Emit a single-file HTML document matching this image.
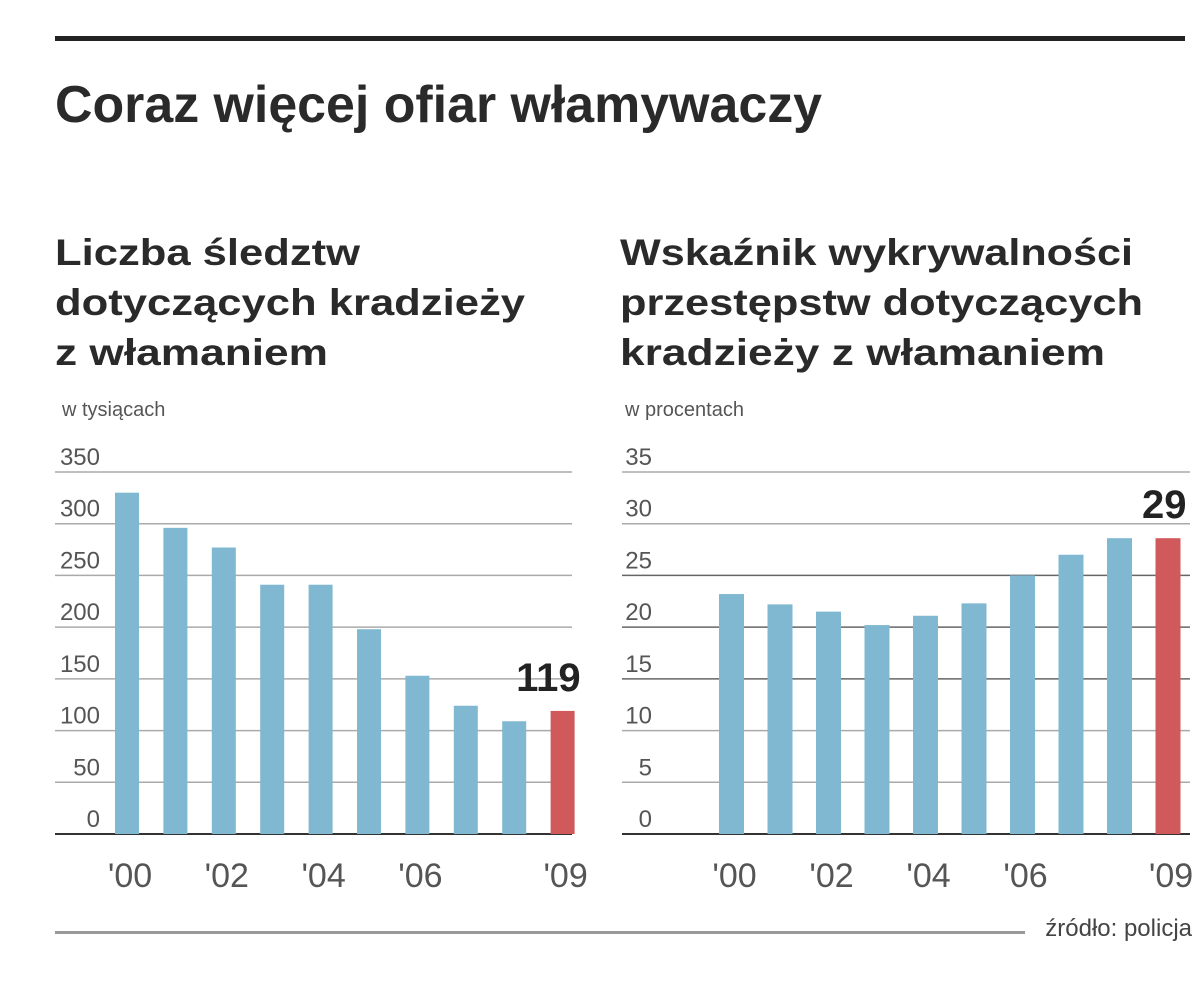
<!DOCTYPE html>
<html><head><meta charset="utf-8"><style>
html,body{margin:0;padding:0;background:#fff;}
svg{display:block;font-family:"Liberation Sans",sans-serif;}
</style></head><body>
<svg id="s" width="1200" height="982" viewBox="0 0 1200 982">
<rect x="55" y="36" width="1130" height="5" fill="#222"/>
<text x="55" y="122" font-size="52" font-weight="bold" fill="#2a2a2a" textLength="767" lengthAdjust="spacingAndGlyphs">Coraz więcej ofiar włamywaczy</text>
<g font-size="37" font-weight="bold" fill="#2a2a2a">
<text x="55" y="265" textLength="305" lengthAdjust="spacingAndGlyphs">Liczba śledztw</text>
<text x="55" y="315" textLength="470" lengthAdjust="spacingAndGlyphs">dotyczących kradzieży</text>
<text x="55" y="365" textLength="273" lengthAdjust="spacingAndGlyphs">z włamaniem</text>
</g>
<g font-size="37" font-weight="bold" fill="#2a2a2a">
<text x="620" y="265" textLength="513" lengthAdjust="spacingAndGlyphs">Wskaźnik wykrywalności</text>
<text x="620" y="315" textLength="523" lengthAdjust="spacingAndGlyphs">przestępstw dotyczących</text>
<text x="620" y="365" textLength="485" lengthAdjust="spacingAndGlyphs">kradzieży z włamaniem</text>
</g>
<text x="62" y="416" font-size="20" fill="#555">w tysiącach</text>
<text x="625" y="416" font-size="20" fill="#555">w procentach</text>
<g id="left"></g>
<g id="right"></g>
<rect x="55" y="931" width="970" height="3" fill="#999"/>
<text x="1192" y="936" font-size="24" fill="#444" text-anchor="end">źródło: policja</text>
</svg>
<script>
const years = ["'00","'01","'02","'03","'04","'05","'06","'07","'08","'09"];
const xLabelShown = [true,false,true,false,true,false,true,false,false,true];
const leftValues = [330,296,277,241,241,198,153,124,109,119];
const leftTicks = [0,50,100,150,200,250,300,350];
const leftHighlight = "119";
const rightValues = [23.2,22.2,21.5,20.2,21.1,22.3,25,27,28.6,28.6];
const rightTicks = [0,5,10,15,20,25,30,35];
const rightHighlight = "29";
const NS="http://www.w3.org/2000/svg";
function mk(tag,attrs,parent){const e=document.createElementNS(NS,tag);for(const k in attrs)e.setAttribute(k,attrs[k]);parent.appendChild(e);return e;}
function draw(gid,vals,ticks,hl,cfg){
  const g=document.getElementById(gid);
  const max=ticks[ticks.length-1];
  const y=v=>cfg.y0-(v/max)*(cfg.y0-cfg.yTop);
  const x=i=>cfg.x0+i*cfg.pitch;
  ticks.forEach((t,i)=>{
    const dark = cfg.darkTicks && cfg.darkTicks.includes(t);
    const ln=mk('line',{x1:cfg.gx1,x2:cfg.gx2,y1:y(t),y2:y(t),stroke:t===0?'#333':(dark?'#666':'#aaa'),'stroke-width':t===0?2:1.5},g);
    
    
    const tx=mk('text',{x:cfg.tickX,y:y(t)-7,'font-size':24,fill:'#555','text-anchor':'end'},g);
    tx.textContent=t;
    
    
  });
  vals.forEach((v,i)=>{
    const last=i===vals.length-1;
    const r=mk('rect',{x:x(i),y:y(v),width:cfg.bw,height:cfg.y0-y(v),fill:last?'#d0595c':'#7fb8d0'},g);
    
    
    if(xLabelShown[i]){
      const t=mk('text',{x:x(i)+cfg.bw/2+3,y:cfg.y0+53,'font-size':34,fill:'#555','text-anchor':'middle'},g);
      t.textContent=years[i];
      
      
    }
    if(last){
      const t=mk('text',{x:x(i)+cfg.bw+6,y:y(v)-20,'font-size':40,'font-weight':'bold',fill:'#222','text-anchor':'end'},g);
      t.textContent=hl;
      
      
    }
  });
}
draw('left',leftValues,leftTicks,leftHighlight,{x0:115,pitch:48.4,bw:24,y0:834,yTop:472,gx1:55,gx2:572,tickX:100});
draw('right',rightValues,rightTicks,rightHighlight,{x0:719,pitch:48.5,bw:25,y0:834,yTop:472,gx1:622,gx2:1190,tickX:652,darkTicks:[15,20,25]});
</script>
</body></html>
